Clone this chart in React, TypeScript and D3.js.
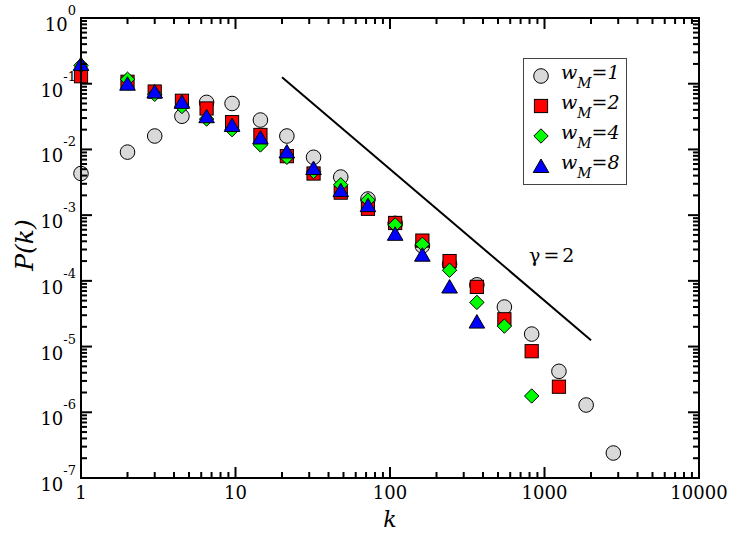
import React from "react";
import * as d3 from "d3";

// ---- data ----
const kValues = [1, 2, 3, 4.5, 6.5, 9.5, 14.5, 21.5, 32, 48, 72, 108, 162, 243, 365, 550, 826, 1240, 1860, 2790];
const pW1 = [4.3e-3, 9.1e-3, 1.6e-2, 3.2e-2, 5.2e-2, 5.0e-2, 2.8e-2, 1.6e-2, 7.6e-3, 3.8e-3, 1.76e-3, 7.5e-4, 3.4e-4, 1.8e-4, 8.7e-5, 4.0e-5, 1.55e-5, 4.2e-6, 1.29e-6, 2.4e-7];
const pW2 = [0.13, 0.107, 0.076, 0.055, 0.042, 0.026, 0.0166, 7.9e-3, 4.3e-3, 2.2e-3, 1.25e-3, 7.6e-4, 4.1e-4, 2.0e-4, 8.1e-5, 2.6e-5, 8.5e-6, 2.45e-6];
const pW4 = [0.19, 0.117, 0.069, 0.045, 0.029, 0.020, 0.0117, 7.6e-3, 4.6e-3, 2.9e-3, 1.7e-3, 7.1e-4, 3.6e-4, 1.45e-4, 4.7e-5, 2.05e-5, 1.77e-6];
const pW8 = [0.20, 0.10, 0.076, 0.053, 0.032, 0.0235, 0.0152, 9.3e-3, 5.2e-3, 2.4e-3, 1.42e-3, 5.2e-4, 2.5e-4, 8.2e-5, 2.4e-5];

const seriesLabels = ["=1", "=2", "=4", "=8"];
const xTickValues = [1, 10, 100, 1000, 10000];
const xTickLabels = ["1", "10", "100", "1000", "10000"];
const yTickValues = [1, 1e-1, 1e-2, 1e-3, 1e-4, 1e-5, 1e-6, 1e-7];
const yTickExponents = ["0", "-1", "-2", "-3", "-4", "-5", "-6", "-7"];
const refLineK = [20, 2000];
const refLineP = [0.125, 1.25e-5];

// ---- layout ----
const W = 735, H = 534;
const L = 81, R = 699, T = 18, B = 478;
const x = d3.scaleLog().domain([1, 10000]).range([L, R]);
const y = d3.scaleLog().domain([1e-7, 1]).range([B, T]);

const serif = "'DejaVu Serif', serif";

type Sym = "circle" | "square" | "diamond" | "triangle";
const series: { vals: number[]; sym: Sym; fill: string }[] = [
  { vals: pW1, sym: "circle", fill: "#d9d9d9" },
  { vals: pW2, sym: "square", fill: "#ff0000" },
  { vals: pW4, sym: "diamond", fill: "#00ff00" },
  { vals: pW8, sym: "triangle", fill: "#0000ff" },
];

function Marker({ cx, cy, sym, fill }: { cx: number; cy: number; sym: Sym; fill: string }) {
  const common = { fill, stroke: "#000", strokeWidth: 1 };
  if (sym === "circle") return <circle cx={cx} cy={cy} r={7.3} {...common} />;
  if (sym === "square") return <rect x={cx - 6.6} y={cy - 6.6} width={13.2} height={13.2} {...common} />;
  if (sym === "diamond")
    return <path d={`M${cx},${cy - 7.2}L${cx + 7.2},${cy}L${cx},${cy + 7.2}L${cx - 7.2},${cy}Z`} {...common} />;
  return <path d={`M${cx},${cy - 7}L${cx + 7.8},${cy + 6.5}L${cx - 7.8},${cy + 6.5}Z`} {...common} />;
}

export default function App() {
  const xMinor: number[] = [];
  for (let d = 1; d < 10000; d *= 10) for (let m = 2; m <= 9; m++) xMinor.push(d * m);
  const yMinor: number[] = [];
  for (let e = -7; e < 0; e++) for (let m = 2; m <= 9; m++) yMinor.push(Math.pow(10, e) * m);

  const majLen = 11, minLen = 6;
  const line = d3.line<number>().x((_, i) => x(refLineK[i])).y((_, i) => y(refLineP[i]));

  const legendX = 541, legendY0 = 76, legendDy = 30;

  return (
    <svg width={W} height={H} style={{ position: "absolute", left: 0, top: 0, background: "#fff" }}>
      <rect x={0} y={0} width={W} height={H} fill="#fff" />
      {/* reference line */}
      <path d={line([0, 1]) || ""} stroke="#000" strokeWidth={2} fill="none" />
      {/* data */}
      {series.map((s, si) => (
        <g key={si}>
          {s.vals.map((v, i) => (
            <Marker key={i} cx={x(kValues[i])} cy={y(v)} sym={s.sym} fill={s.fill} />
          ))}
        </g>
      ))}
      {/* ticks */}
      <g stroke="#000" strokeWidth={2}>
        {xTickValues.map((v, i) => (
          <g key={"xm" + i}>
            <line x1={x(v)} x2={x(v)} y1={B} y2={B - majLen} />
            <line x1={x(v)} x2={x(v)} y1={T} y2={T + majLen} />
          </g>
        ))}
        {xMinor.map((v, i) => (
          <g key={"xn" + i}>
            <line x1={x(v)} x2={x(v)} y1={B} y2={B - minLen} />
            <line x1={x(v)} x2={x(v)} y1={T} y2={T + minLen} />
          </g>
        ))}
        {yTickValues.map((v, i) => (
          <g key={"ym" + i}>
            <line x1={L} x2={L + majLen} y1={y(v)} y2={y(v)} />
            <line x1={R} x2={R - majLen} y1={y(v)} y2={y(v)} />
          </g>
        ))}
        {yMinor.map((v, i) => (
          <g key={"yn" + i}>
            <line x1={L} x2={L + minLen} y1={y(v)} y2={y(v)} />
            <line x1={R} x2={R - minLen} y1={y(v)} y2={y(v)} />
          </g>
        ))}
      </g>
      {/* frame */}
      <rect x={L} y={T} width={R - L} height={B - T} fill="none" stroke="#000" strokeWidth={2} />
      {/* tick labels */}
      <g fontFamily={serif} fill="#000">
        {xTickValues.map((v, i) => (
          <text key={"xl" + i} x={x(v)} y={B + 21} fontSize={18} textAnchor="middle">
            {xTickLabels[i]}
          </text>
        ))}
        {yTickValues.map((v, i) => (
          <text key={"yl" + i} x={76} y={y(v) + 13} fontSize={18} textAnchor="end">
            10
            <tspan fontSize={13} dy={-16}>
              {yTickExponents[i]}
            </tspan>
          </text>
        ))}
      </g>
      {/* axis titles */}
      <text x={390} y={527} fontFamily={serif} fontStyle="italic" fontSize={22} textAnchor="middle">
        k
      </text>
      <text
        transform={`translate(33,245) rotate(-90)`}
        fontFamily={serif}
        fontStyle="italic"
        fontSize={25}
        textAnchor="middle"
      >
        P(k)
      </text>
      <text x={529} y={262} fontFamily={serif} fontSize={19} wordSpacing={-3}>
        γ = 2
      </text>
      {/* legend */}
      <rect x={523.5} y={58.5} width={103} height={126} fill="#fff" stroke="#444" strokeWidth={1} />
      {series.map((s, i) => (
        <g key={"lg" + i}>
          <Marker cx={legendX} cy={legendY0 + i * legendDy} sym={s.sym} fill={s.fill} />
          <text x={561} y={legendY0 + 3 + i * legendDy} fontFamily={serif} fontStyle="italic" fontSize={19}>
            w
            <tspan fontSize={14} dy={9}>
              M
            </tspan>
            <tspan dy={-9}>{seriesLabels[i]}</tspan>
          </text>
        </g>
      ))}
    </svg>
  );
}
